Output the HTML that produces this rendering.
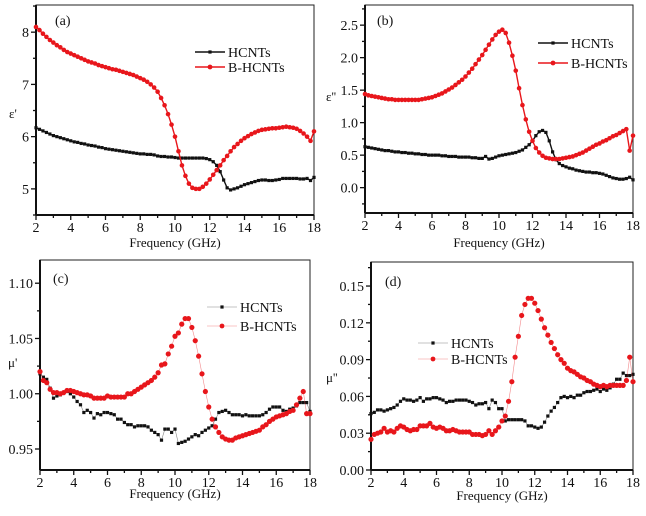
<!DOCTYPE html>
<html><head><meta charset="utf-8"><style>
html,body{margin:0;padding:0;background:#fff;}
svg text{font-family:"Liberation Serif",serif;fill:#111;}
</style></head><body>
<svg id="fig" width="646" height="511" viewBox="0 0 646 511" xmlns="http://www.w3.org/2000/svg"></svg>
<script>
const xStart = 2, xStep = 0.2;
const aBlack = [6.17,6.14,6.11,6.08,6.05,6.02,6.00,5.98,5.96,5.94,5.92,5.90,5.89,5.87,5.86,5.84,5.83,5.82,5.80,5.79,5.77,5.76,5.75,5.74,5.73,5.72,5.71,5.70,5.69,5.68,5.67,5.67,5.66,5.66,5.65,5.63,5.62,5.62,5.61,5.61,5.60,5.59,5.59,5.59,5.59,5.59,5.59,5.59,5.59,5.58,5.56,5.52,5.45,5.33,5.17,5.02,4.98,5.00,5.02,5.05,5.08,5.10,5.12,5.14,5.16,5.17,5.17,5.16,5.16,5.17,5.18,5.20,5.20,5.20,5.20,5.20,5.19,5.19,5.20,5.16,5.22];
const aRed = [8.10,8.04,7.97,7.91,7.85,7.80,7.75,7.71,7.66,7.62,7.59,7.56,7.53,7.50,7.47,7.44,7.42,7.40,7.37,7.35,7.33,7.31,7.29,7.28,7.26,7.24,7.22,7.20,7.18,7.15,7.12,7.09,7.05,7.00,6.94,6.86,6.74,6.60,6.43,6.23,6.00,5.72,5.45,5.25,5.10,5.02,5.00,5.00,5.04,5.10,5.18,5.27,5.36,5.45,5.55,5.63,5.72,5.80,5.86,5.92,5.97,6.01,6.05,6.08,6.11,6.13,6.14,6.15,6.16,6.16,6.17,6.18,6.19,6.18,6.17,6.15,6.11,6.06,6.00,5.92,6.10];
const bBlack = [.63,.62,.61,.60,.59,.58,.57,.57,.56,.55,.55,.54,.54,.53,.53,.52,.52,.51,.51,.50,.50,.50,.50,.49,.49,.48,.48,.48,.47,.47,.47,.47,.46,.46,.45,.45,.48,.44,.45,.47,.49,.50,.51,.52,.53,.54,.56,.58,.62,.66,.72,.80,.86,.88,.85,.72,.55,.43,.37,.34,.32,.30,.29,.27,.26,.25,.24,.24,.23,.23,.22,.21,.19,.17,.15,.14,.13,.13,.14,.16,.12];
const bRed = [1.44,1.42,1.41,1.40,1.39,1.38,1.37,1.36,1.36,1.35,1.35,1.35,1.35,1.35,1.35,1.35,1.35,1.36,1.37,1.38,1.39,1.41,1.43,1.45,1.48,1.51,1.54,1.58,1.62,1.66,1.71,1.77,1.83,1.90,1.97,2.04,2.12,2.20,2.28,2.35,2.40,2.43,2.38,2.23,2.03,1.80,1.53,1.27,1.05,0.86,0.72,0.61,0.54,0.49,0.46,0.45,0.44,0.44,0.44,0.45,0.46,0.47,0.48,0.50,0.52,0.54,0.57,0.60,0.63,0.66,0.68,0.71,0.73,0.76,0.79,0.81,0.84,0.87,0.90,0.57,0.80];
const cBlack = [1.018,1.015,1.013,1.005,0.996,0.998,0.999,1.001,1.002,1.000,0.997,0.993,0.990,0.983,0.985,0.983,0.978,0.982,0.981,0.983,0.983,0.982,0.981,0.977,0.977,0.974,0.972,0.972,0.970,0.971,0.971,0.971,0.970,0.967,0.965,0.963,0.958,0.968,0.968,0.965,0.968,0.955,0.956,0.957,0.959,0.961,0.963,0.962,0.965,0.967,0.969,0.971,0.977,0.983,0.984,0.985,0.983,0.981,0.981,0.981,0.980,0.981,0.980,0.980,0.980,0.980,0.981,0.983,0.986,0.988,0.988,0.988,0.985,0.984,0.986,0.987,0.989,0.992,0.992,0.992,0.984];
const cRed = [1.020,1.012,1.010,1.004,1.001,1.001,1.000,1.001,1.003,1.003,1.002,1.001,1.000,0.999,0.999,0.998,0.996,0.996,0.996,0.996,0.998,0.997,0.997,0.997,0.997,0.997,1.000,1.000,1.002,1.004,1.006,1.008,1.010,1.012,1.015,1.019,1.026,1.027,1.036,1.043,1.052,1.055,1.063,1.068,1.068,1.060,1.048,1.034,1.018,1.002,0.988,0.977,0.970,0.965,0.961,0.959,0.958,0.958,0.960,0.961,0.962,0.963,0.964,0.965,0.966,0.967,0.970,0.972,0.975,0.977,0.979,0.980,0.981,0.982,0.984,0.985,0.990,0.996,1.002,0.982,0.982];
const dBlack = [0.046,0.047,0.049,0.049,0.048,0.049,0.050,0.051,0.053,0.056,0.058,0.057,0.057,0.056,0.057,0.059,0.056,0.058,0.058,0.059,0.059,0.058,0.057,0.055,0.056,0.056,0.057,0.057,0.057,0.057,0.056,0.055,0.053,0.054,0.054,0.055,0.050,0.057,0.055,0.050,0.050,0.040,0.041,0.041,0.041,0.041,0.041,0.040,0.036,0.036,0.035,0.034,0.035,0.039,0.044,0.048,0.051,0.055,0.059,0.060,0.059,0.060,0.059,0.061,0.061,0.063,0.064,0.064,0.065,0.066,0.064,0.066,0.065,0.067,0.070,0.074,0.074,0.079,0.077,0.077,0.078];
const dRed = [0.025,0.029,0.030,0.031,0.034,0.031,0.032,0.031,0.034,0.036,0.035,0.033,0.032,0.033,0.033,0.036,0.036,0.036,0.038,0.035,0.034,0.035,0.034,0.032,0.032,0.033,0.032,0.031,0.031,0.031,0.031,0.029,0.029,0.029,0.028,0.029,0.032,0.029,0.032,0.035,0.040,0.044,0.056,0.072,0.092,0.109,0.126,0.135,0.140,0.140,0.136,0.130,0.123,0.116,0.110,0.104,0.099,0.094,0.090,0.087,0.083,0.081,0.080,0.078,0.076,0.075,0.073,0.072,0.070,0.069,0.068,0.069,0.068,0.069,0.069,0.069,0.069,0.069,0.073,0.092,0.072];
const xTicks = [2,4,6,8,10,12,14,16,18];
const aTicks = ["5","6","7","8"];
const bTicks = ["0.0","0.5","1.0","1.5","2.0","2.5"];
const cTicks = ["0.95","1.00","1.05","1.10"];
const dTicks = ["0.00","0.03","0.06","0.09","0.12","0.15"];

const NS = "http://www.w3.org/2000/svg";
const svg = document.getElementById('fig');
const SERIF = '"Liberation Serif", serif';
const SANS = '"Liberation Sans", sans-serif';
function mk(tag, attrs, parent){const e=document.createElementNS(NS,tag);for(const k in attrs)e.setAttribute(k,attrs[k]);(parent||svg).appendChild(e);return e;}

const panels = [
 {id:'a',L:36,R:314,T:5,B:215,ymin:4.5,ymax:8.52,ticks:aTicks,minor:0.5,blk:aBlack,red:aRed,ylab:"ε'",lab:"(a)",lx:195,ly:52,xl:247,labx:55,laby:25,lw:1.4,ytx:9,yty:118},
 {id:'b',L:365,R:633,T:5,B:213,ymin:-0.39,ymax:2.81,ticks:bTicks,minor:0.25,blk:bBlack,red:bRed,ylab:"ε''",lab:"(b)",lx:538,ly:43,xl:247,labx:377,laby:25,lw:1.4,ytx:326,yty:101},
 {id:'c',L:40,R:310,T:260,B:470,ymin:0.931,ymax:1.121,ticks:cTicks,minor:0.025,blk:cBlack,red:cRed,ylab:"μ'",lab:"(c)",lx:207,ly:307,xl:498,labx:53,laby:283,lw:0.6,ytx:8,yty:367},
 {id:'d',L:371,R:633,T:262,B:470,ymin:0,ymax:0.1696,ticks:dTicks,minor:0.015,blk:dBlack,red:dRed,ylab:"μ''",lab:"(d)",lx:418,ly:343,xl:500,labx:385,laby:286,lw:0.6,ytx:326,yty:382}
];

panels.forEach(p=>{
 const g = mk('g',{});
 
 
 const xs = v => p.L + (v-2)/(16)*(p.R-p.L);
 const ys = v => p.B - (v-p.ymin)/(p.ymax-p.ymin)*(p.B-p.T);
 const frame = mk('rect',{x:p.L,y:p.T,width:p.R-p.L,height:p.B-p.T,fill:'none',stroke:'#222','stroke-width':1},g);
 
 
 mk('line',{x1:p.L,y1:p.B,x2:p.R,y2:p.B,stroke:'#111','stroke-width':2},g);
 mk('line',{x1:p.L,y1:p.T,x2:p.L,y2:p.B,stroke:'#111','stroke-width':2},g);
 const xa = mk('g',{},g);
 
 
 for(let v=2; v<=18; v+=1){
   const major = v%2===0;
   mk('line',{x1:xs(v),y1:p.B,x2:xs(v),y2:p.B+(major?5:3),stroke:'#111','stroke-width':1.3},xa);
 }
 xTicks.forEach(v=>{
   const t=mk('text',{x:xs(v),y:p.B+17,'text-anchor':'middle','font-size':14,'font-family':SERIF},xa);t.textContent=v;
   
   
 });
 const xt=mk('text',{x:(p.L+p.R)/2,y:p.xl,'text-anchor':'middle','font-size':13,'font-family':SANS},xa);
 xt.textContent='Frequency (GHz)';
 
 
 const ya = mk('g',{},g);
 
 
 const t0=parseFloat(p.ticks[0]);
 for(let k=-4;k<40;k++){
   const v=t0+k*p.minor; const yy=ys(v);
   if(yy<p.T-0.5||yy>p.B+0.5) continue;
   mk('line',{x1:p.L-(k%2===0?5:3),y1:yy,x2:p.L,y2:yy,stroke:'#111','stroke-width':1.3},ya);
 }
 p.ticks.forEach(s=>{
   const t=mk('text',{x:p.L-7,y:ys(parseFloat(s))+5,'text-anchor':'end','font-size':14,'font-family':SERIF},ya);t.textContent=s;
   
   
 });
 const yt=mk('text',{x:p.ytx,y:p.yty,'font-size':13,'font-family':SERIF},ya);
 yt.textContent=p.ylab;
 
 
 const pl=mk('text',{x:p.labx,y:p.laby,'font-size':14,'font-family':SERIF},g);
 pl.textContent=p.lab;
 
 
 [['blk','#111','HCNTs'],['red','#e8161b','B-HCNTs']].forEach(([key,col,name],si)=>{
   const arr=p[key];
   const sg=mk('g',{},g);
   
   
   const pts=arr.map((v,i)=>xs(xStart+i*xStep).toFixed(1)+','+ys(v).toFixed(1)).join(' ');
   const ln=mk('polyline',{points:pts,fill:'none',stroke:col,'stroke-width':p.lw,opacity:p.lw<1?0.5:1},sg);
   
   
   arr.forEach((v,i)=>{
     const cx=xs(xStart+i*xStep), cy=ys(v);
     let m;
     if(key==='blk'){ m=mk('rect',{x:cx-1.6,y:cy-1.6,width:3.2,height:3.2,fill:col},sg); }
     else { m=mk('circle',{cx:cx,cy:cy,r:p.lw<1?2.6:2.3,fill:col},sg); }
     
     
   });
   const lg=mk('g',{},g);
   
   
   const ly=p.ly+si*(p.id==='a'?15:(p.id==='b'?20:(p.id==='c'?19:16)));
   mk('line',{x1:p.lx,y1:ly,x2:p.lx+30,y2:ly,stroke:col,'stroke-width':p.lw,opacity:p.lw<1?0.5:1},lg);
   if(key==='blk') mk('rect',{x:p.lx+13.4,y:ly-1.6,width:3.2,height:3.2,fill:col},lg);
   else mk('circle',{cx:p.lx+15,cy:ly,r:2.4,fill:col},lg);
   const tx=mk('text',{x:p.lx+33,y:ly+5,'font-size':14,'font-family':SERIF},lg);
   tx.textContent=name;
 });
});
</script>
</body></html>
